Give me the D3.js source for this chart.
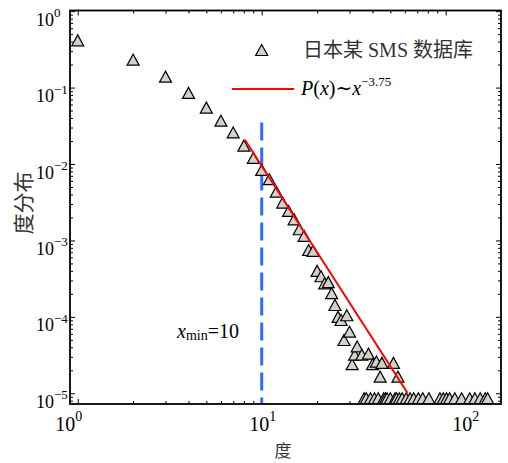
<!DOCTYPE html>
<html>
<head>
<meta charset="utf-8">
<script src="https://cdn.jsdelivr.net/npm/d3@7"></script>
<style>
  html, body { margin: 0; padding: 0; background: #fff; }
  svg { display: block; }
  .serif { font-family: "Liberation Serif", "Times New Roman", Times, "DejaVu Serif", serif; }
  .cjk { font-family: "Noto Sans CJK SC", "Noto Sans CJK JP", sans-serif; }
  .mixed { font-family: "Liberation Serif", "Times New Roman", Times, "Noto Sans CJK SC", serif; }
</style>
</head>
<body>
<svg id="chart" width="508" height="463"></svg>
<script>
// Degree distribution of the SMS network (probability of each observed degree)
const degrees = [
  1, 2, 3, 4, 5, 6, 7, 8, 9, 10,
  11, 12, 13, 14, 15, 16, 17, 18, 19, 20,
  21, 22, 23, 24, 25, 26, 27, 28, 29, 30,
  31, 32, 33, 35, 38, 40, 42, 44, 45, 52, 55
];
const probabilities = [
  0.415, 0.232, 0.139, 0.0853, 0.0547, 0.0369, 0.0259, 0.0174, 0.0120, 0.00837,
  0.00633, 0.00435, 0.00313, 0.00243, 0.00189, 0.00140, 0.00115, 7.5e-4, 7.3e-4, 4.0e-4,
  3.4e-4, 2.75e-4, 2.85e-4, 2.04e-4, 1.43e-4, 1.0e-4, 9.1e-5, 4.98e-5, 1.05e-4, 6.4e-5,
  2.4e-5, 3.2e-5, 4.1e-5, 3.2e-5, 3.3e-5, 2.4e-5, 2.6e-5, 1.65e-5, 2.5e-5, 2.5e-5, 1.65e-5
];
// Degrees seen only once: they all share the smallest probability
const singleDegrees = [
  36, 37, 39, 41, 43, 46, 47, 48, 50, 53, 54, 56, 58, 61, 64, 67, 71, 75, 81,
  93, 97, 101, 105, 112, 122, 135, 144, 154, 164, 169
];
const singleProbability = 8.6e-6;

// Power-law fit P(x) ~ C x^-alpha above x_min
const fitExponent = 3.75;
const fitAmplitude = 53;
const fitRange = [8.1, 62];
const xMin = 10;
const xMinLineTop = 0.035;

// Axis ticks and labels
const xMajorTicks = [1, 10, 100];
const xTickExponents = ["0", "1", "2"];
const yMajorTicks = [1, 1e-1, 1e-2, 1e-3, 1e-4, 1e-5];
const yTickExponents = ["0", "\u22121", "\u22122", "\u22123", "\u22124", "\u22125"];

const legendDataLabel = "日本某 SMS 数据库";
const xTitle = "度";
const yTitle = "度分布";

// ---- layout ----
const frame = { left: 70, right: 501, top: 10.5, bottom: 404 };
const markerFill = "#d4d1ca";
const blue = "#2f6bff";
const red = "#ff0000";

const svg = d3.select("#chart");

const x = d3.scaleLog().domain([0.908, 199.7]).range([frame.left, frame.right]);
const y = d3.scaleLog().domain([7.24e-6, 1.02]).range([frame.bottom, frame.top]);

function minorTicks(scale, majors) {
  const [lo, hi] = scale.domain();
  const out = [];
  majors.forEach(m => {
    for (let k = 2; k <= 9; k++) {
      const v = m * k;
      if (v > lo && v < hi) out.push(v);
    }
  });
  return out;
}
const xMinor = minorTicks(x, [1, 10, 100]);
const yMinor = minorTicks(y, [1e-6, 1e-5, 1e-4, 1e-3, 1e-2, 1e-1, 1]);
const isMajor = (list) => (v) => list.some(m => Math.abs(Math.log10(v) - Math.log10(m)) < 1e-9);
const xIsMajor = isMajor(xMajorTicks);
const yIsMajor = isMajor(yMajorTicks);

svg.append("defs").append("clipPath").attr("id", "plot-clip")
  .append("rect")
  .attr("x", frame.left).attr("y", frame.top)
  .attr("width", frame.right - frame.left).attr("height", frame.bottom - frame.top);

// ---- axes with inward ticks on all four sides ----
const majorLen = 5, minorLen = 3;
function styleAxis(g, majorTest) {
  g.select(".domain").remove();
  g.selectAll(".tick text").remove();
  g.selectAll(".tick line").attr("stroke", "#000").attr("stroke-width", 1);
  g.selectAll(".tick").each(function (d) {
    const line = d3.select(this).select("line");
    const len = majorTest(d) ? majorLen : minorLen;
    ["x2", "y2"].forEach(attr => {
      const v = +line.attr(attr);
      if (v) line.attr(attr, Math.sign(v) * len);
    });
  });
}
const xTicksAll = xMajorTicks.concat(xMinor);
const yTicksAll = yMajorTicks.concat(yMinor);

svg.append("g").attr("transform", `translate(0,${frame.bottom})`)
  .call(d3.axisBottom(x).tickValues(xTicksAll).tickSize(-majorLen).tickSizeOuter(0))
  .call(g => styleAxis(g, xIsMajor));
svg.append("g").attr("transform", `translate(0,${frame.top})`)
  .call(d3.axisTop(x).tickValues(xTicksAll).tickSize(-majorLen).tickSizeOuter(0))
  .call(g => styleAxis(g, xIsMajor));
svg.append("g").attr("transform", `translate(${frame.left},0)`)
  .call(d3.axisLeft(y).tickValues(yTicksAll).tickSize(-majorLen).tickSizeOuter(0))
  .call(g => styleAxis(g, yIsMajor));
svg.append("g").attr("transform", `translate(${frame.right},0)`)
  .call(d3.axisRight(y).tickValues(yTicksAll).tickSize(-majorLen).tickSizeOuter(0))
  .call(g => styleAxis(g, yIsMajor));

// ---- tick labels (10 with superscript exponent) ----
const xLabelNudge = [-9, 1, 20];
xMajorTicks.forEach((v, i) => {
  const t = svg.append("text").attr("class", "serif")
    .attr("x", x(v) + xLabelNudge[i]).attr("y", frame.bottom + 26.5)
    .attr("text-anchor", "middle").attr("fill", "#000");
  t.append("tspan").attr("font-size", 20).text("10");
  t.append("tspan").attr("font-size", 14).attr("dy", -10).text(xTickExponents[i]);
});
yMajorTicks.forEach((v, i) => {
  const t = svg.append("text").attr("class", "serif")
    .attr("x", 36).attr("y", y(v) + 14.5)
    .attr("text-anchor", "start").attr("fill", "#000");
  t.append("tspan").attr("font-size", 18).text("10");
  t.append("tspan").attr("font-size", 13).attr("dy", -8.5).text(yTickExponents[i]);
});

// ---- axis titles ----
svg.append("text").attr("class", "cjk")
  .attr("x", 283).attr("y", 457)
  .attr("text-anchor", "middle")
  .attr("font-size", 17).attr("fill", "#333")
  .text(xTitle);
svg.append("text").attr("class", "cjk")
  .attr("transform", "translate(31,203) rotate(-90)")
  .attr("text-anchor", "middle")
  .attr("font-size", 21).attr("fill", "#333")
  .text(yTitle);

// ---- plot contents ----
const plot = svg.append("g").attr("clip-path", "url(#plot-clip)");

// x_min marker line
plot.append("line")
  .attr("x1", x(xMin)).attr("x2", x(xMin))
  .attr("y1", y(xMinLineTop)).attr("y2", y(y.domain()[0]))
  .attr("stroke", blue).attr("stroke-width", 3)
  .attr("stroke-dasharray", "18 7");

// triangle markers (bounding-box centred)
const triW = 12, triH = 11;
const trianglePath = `M0,${-triH / 2}L${triW / 2},${triH / 2}L${-triW / 2},${triH / 2}Z`;
const points = degrees.map((d, i) => ({ deg: d, p: probabilities[i] }))
  .concat(singleDegrees.map(d => ({ deg: d, p: singleProbability })));

plot.append("g").selectAll("path")
  .data(points)
  .join("path")
  .attr("d", trianglePath)
  .attr("transform", d => `translate(${x(d.deg)},${y(d.p)})`)
  .attr("fill", markerFill)
  .attr("stroke", "#000")
  .attr("stroke-width", 1.2)
  .attr("stroke-linejoin", "miter");

// power-law fit line
const fitLine = d3.line()
  .x(d => x(d))
  .y(d => y(fitAmplitude * Math.pow(d, -fitExponent)));
plot.append("path")
  .datum(fitRange)
  .attr("d", fitLine)
  .attr("fill", "none")
  .attr("stroke", red)
  .attr("stroke-width", 2);

// ---- frame ----
svg.append("rect")
  .attr("x", frame.left).attr("y", frame.top)
  .attr("width", frame.right - frame.left).attr("height", frame.bottom - frame.top)
  .attr("fill", "none").attr("stroke", "#000").attr("stroke-width", 1.8);

// ---- legend ----
const legend = svg.append("g");
legend.append("path")
  .attr("d", trianglePath)
  .attr("transform", "translate(261.7,50)")
  .attr("fill", markerFill).attr("stroke", "#000").attr("stroke-width", 1.2);
legend.append("text").attr("class", "mixed")
  .attr("x", 303).attr("y", 57)
  .attr("font-size", 20).attr("fill", "#333")
  .text(legendDataLabel);
legend.append("line")
  .attr("x1", 232).attr("x2", 294).attr("y1", 89).attr("y2", 89)
  .attr("stroke", red).attr("stroke-width", 2);
const fitText = legend.append("text").attr("class", "serif")
  .attr("x", 301).attr("y", 95)
  .attr("font-size", 20).attr("fill", "#000");
fitText.append("tspan").attr("font-style", "italic").text("P");
fitText.append("tspan").text("(");
fitText.append("tspan").attr("font-style", "italic").text("x");
fitText.append("tspan").text(")");
fitText.append("tspan").text("\u223C");
fitText.append("tspan").attr("font-style", "italic").text("x");
fitText.append("tspan").attr("font-size", 13).attr("dy", -9)
  .text("\u2212" + fitExponent.toFixed(2));

// x_min annotation
const xminText = svg.append("text").attr("class", "serif")
  .attr("x", 177).attr("y", 338)
  .attr("font-size", 20).attr("fill", "#000");
xminText.append("tspan").attr("font-style", "italic").text("x");
xminText.append("tspan").attr("font-size", 14).attr("dy", 2).text("min");
xminText.append("tspan").attr("dy", -2).text("=" + xMin);
</script>
</body>
</html>
